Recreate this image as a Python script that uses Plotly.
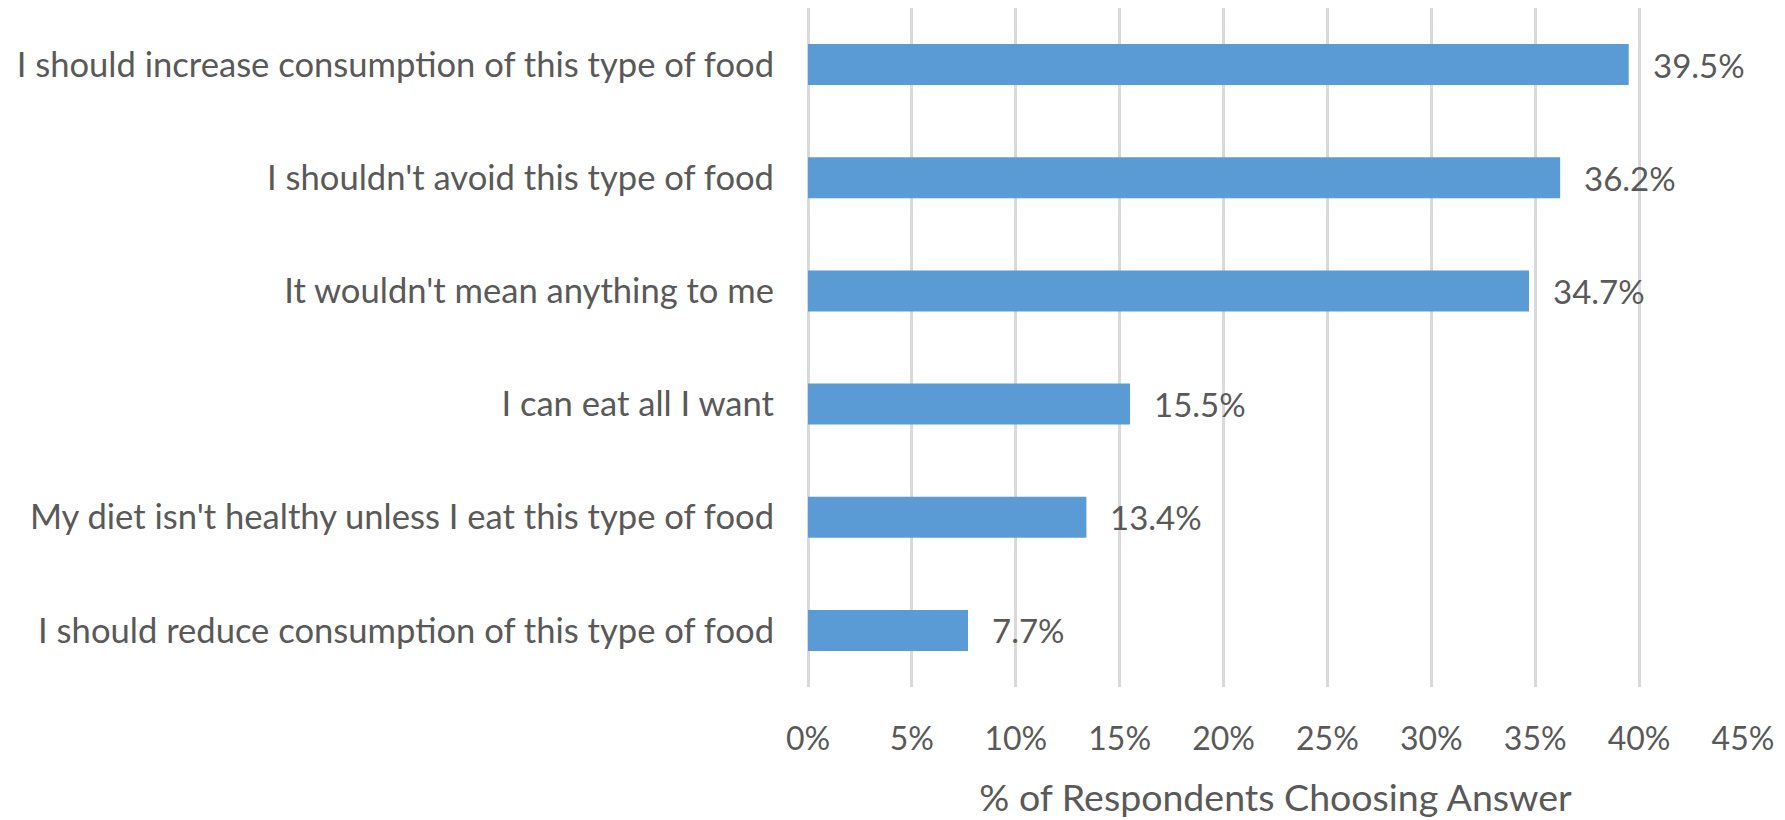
import plotly.graph_objects as go

# Survey answers (bottom-to-top order on the chart)
categories = [
    "I should reduce consumption of this type of food",
    "My diet isn't healthy unless I eat this type of food",
    "I can eat all I want",
    "It wouldn't mean anything to me",
    "I shouldn't avoid this type of food",
    "I should increase consumption of this type of food",
]
share_pct = [7.7, 13.4, 15.5, 34.7, 36.2, 39.5]

x_ticks = [0, 5, 10, 15, 20, 25, 30, 35, 40, 45]
x_tick_labels = [f"{v}%" for v in x_ticks]
x_title = "% of Respondents Choosing Answer"

FONT = "Lato, Carlito, Calibri, sans-serif"
TEXT_GREY = "#595959"
BAR_BLUE = "#5b9bd5"
GRID_GREY = "#d9d9d9"

fig = go.Figure()
fig.add_trace(go.Bar(
    x=share_pct,
    y=categories,
    orientation="h",
    marker=dict(color=BAR_BLUE, line=dict(width=0)),
    hoverinfo="skip",
))

# Value labels sitting just right of each bar
for cat, val in zip(categories, share_pct):
    fig.add_annotation(
        x=val, y=cat, text=f"{val:.1f}%",
        showarrow=False, xanchor="left", yanchor="middle",
        xshift=22, font=dict(family=FONT, size=33, color=TEXT_GREY),
    )

fig.update_layout(
    width=1785, height=820,
    margin=dict(l=808, r=42, t=8, b=133),
    paper_bgcolor="white", plot_bgcolor="white",
    bargap=0.638,
    showlegend=False,
    font=dict(family=FONT, size=32, color=TEXT_GREY),
)
fig.update_xaxes(
    range=[0, 45],
    tickvals=x_ticks, ticktext=x_tick_labels,
    showgrid=True, gridcolor=GRID_GREY, gridwidth=3,
    zeroline=True, zerolinecolor=GRID_GREY, zerolinewidth=3,
    showline=False,
    ticks="", ticklabelstandoff=30,
    tickfont=dict(family=FONT, size=32, color=TEXT_GREY),
    title=dict(text=x_title, standoff=28,
               font=dict(family=FONT, size=37.5, color=TEXT_GREY)),
)
fig.update_yaxes(
    showgrid=False, showline=False, zeroline=False,
    ticks="", ticklabelstandoff=33,
    tickfont=dict(family=FONT, size=34.6, color=TEXT_GREY),
)

fig.write_html("out.html")
